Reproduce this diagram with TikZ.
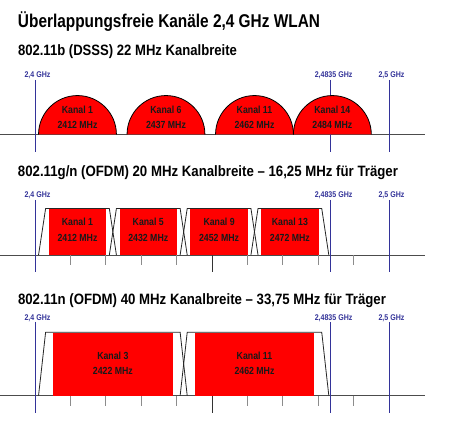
\documentclass[tikz,border=0pt]{standalone}
\usepackage{fontspec}
\usepackage{graphicx}
\setmainfont{Liberation Sans}
\newfontfamily\cfb[FakeStretch=0.85]{Liberation Sans Bold}
\definecolor{ghz}{RGB}{51,51,153}
\definecolor{kred}{RGB}{255,0,0}
\newlength\fitlen
\newcommand\fitto[2]{\settowidth\fitlen{#2}\pgfmathsetmacro\fitfac{#1/\fitlen}\scalebox{\fitfac}[1]{#2}}
\newcommand\F[1]{35+(#1-2400)*3.54}
\begin{document}
\begin{tikzpicture}[x=1pt,y=-1pt,
  every node/.style={inner sep=0pt, outer sep=0pt},
  head/.style={anchor=base west},
  ghzlab/.style={anchor=base, text=ghz, font=\cfb\fontsize{8.3}{8.3}\selectfont},
  ghzline/.style={draw=ghz, line width=0.9pt},
  chtext/.style={anchor=base, font=\cfb\fontsize{10.3}{10.3}\selectfont, text=black!90},
  arcst/.style={fill=kred, draw=black, line width=0.8pt},
  redfill/.style={fill=kred},
  trap/.style={draw=black!85, line width=0.8pt},
  axisst/.style={draw=black!70, line width=0.9pt},
  tickst/.style={draw=black!45, line width=0.8pt},
  longtick/.style={draw=black!80, line width=0.8pt}]
\useasboundingbox (0,0) rectangle (451,422);
\fill[white] (0,0) rectangle (451,422);

% headings
\node[head] (title) at (18,27.3) {\fitto{302}{\bfseries\fontsize{18.5}{18.5}\selectfont Überlappungsfreie Kanäle 2,4 GHz WLAN}};
\node[head] (sub1) at (18,56) {\fitto{219}{\bfseries\fontsize{15}{15}\selectfont 802.11b (DSSS) 22 MHz Kanalbreite}};
\node[head] (sub2) at (18,176.7) {\fitto{380}{\bfseries\fontsize{15}{15}\selectfont 802.11g/n (OFDM) 20 MHz Kanalbreite – 16,25 MHz für Träger}};
\node[head] (sub3) at (18,304.3) {\fitto{368}{\bfseries\fontsize{15}{15}\selectfont 802.11n (OFDM) 40 MHz Kanalbreite – 33,75 MHz für Träger}};

% axes
\draw[axisst] (0,134.5) -- (425,134.5);
\draw[axisst] (0,255) -- (425,255);
\draw[axisst] (0,395.7) -- (425,395.7);

% GHz lines and labels
\foreach \tp/\bt/\lb/\s in {80/152/77.3/a, 200/272/197.7/b, 322/413/321/c}{
  \draw[ghzline] ({\F{2400}},\tp) -- ({\F{2400}},\bt);
  \draw[ghzline] ({\F{2483.5}},\tp) -- ({\F{2483.5}},\bt);
  \draw[ghzline] ({\F{2500}},\tp) -- ({\F{2500}},\bt);
  \node[ghzlab] (g1\s) at ({\F{2400}+2.5},\lb) {2,4 GHz};
  \node[ghzlab] (g2\s) at ({\F{2483.5}+3},\lb) {2,4835 GHz};
  \node[ghzlab] (g3\s) at ({\F{2500}+2.5},\lb) {2,5 GHz};
}

% ticks (sections 2 and 3)
\foreach \ay in {255,395.7}{
  \foreach \t in {2410,2420,2430,2440,2460,2470,2480,2490}{
    \draw[tickst] ({\F{\t}},\ay) -- ++(0,10.5);
  }
  \draw[longtick] ({\F{2450}},\ay) -- ++(0,17.5);
}

% section 1: DSSS
\foreach \f/\k in {2412/1, 2437/6, 2462/11, 2484/14}{
  \draw[arcst] ({\F{\f}-38.94},134.5) arc[start angle=180, end angle=360, radius=38.94];
  \node[chtext] (ka\k) at ({\F{\f}},113.3) {Kanal \k};
  \node[chtext] (ma\k) at ({\F{\f}},128.3) {\f\ MHz};
}

% section 2: OFDM 20 MHz
\foreach \f/\k in {2412/1, 2432/5, 2452/9, 2472/13}{
  \fill[redfill] ({\F{\f}-28.76},209) rectangle ({\F{\f}+28.76},255);
  \draw[trap] ({\F{\f}-38.94},255) -- ({\F{\f}-31.86},208.5) -- ({\F{\f}+31.86},208.5) -- ({\F{\f}+38.94},255);
  \node[chtext] (kb\k) at ({\F{\f}},226) {Kanal \k};
  \node[chtext] (mb\k) at ({\F{\f}},241.7) {\f\ MHz};
}

% section 3: OFDM 40 MHz
\foreach \f/\k in {2422/3, 2462/11}{
  \fill[redfill] ({\F{\f}-59.74},332.8) rectangle ({\F{\f}+59.74},395.7);
  \draw[trap] ({\F{\f}-74.34},395.7) -- ({\F{\f}-67.26},332.3) -- ({\F{\f}+67.26},332.3) -- ({\F{\f}+74.34},395.7);
  \node[chtext] (kc\k) at ({\F{\f}},360) {Kanal \k};
  \node[chtext] (mc\k) at ({\F{\f}},375) {\f\ MHz};
}
\end{tikzpicture}
\end{document}
